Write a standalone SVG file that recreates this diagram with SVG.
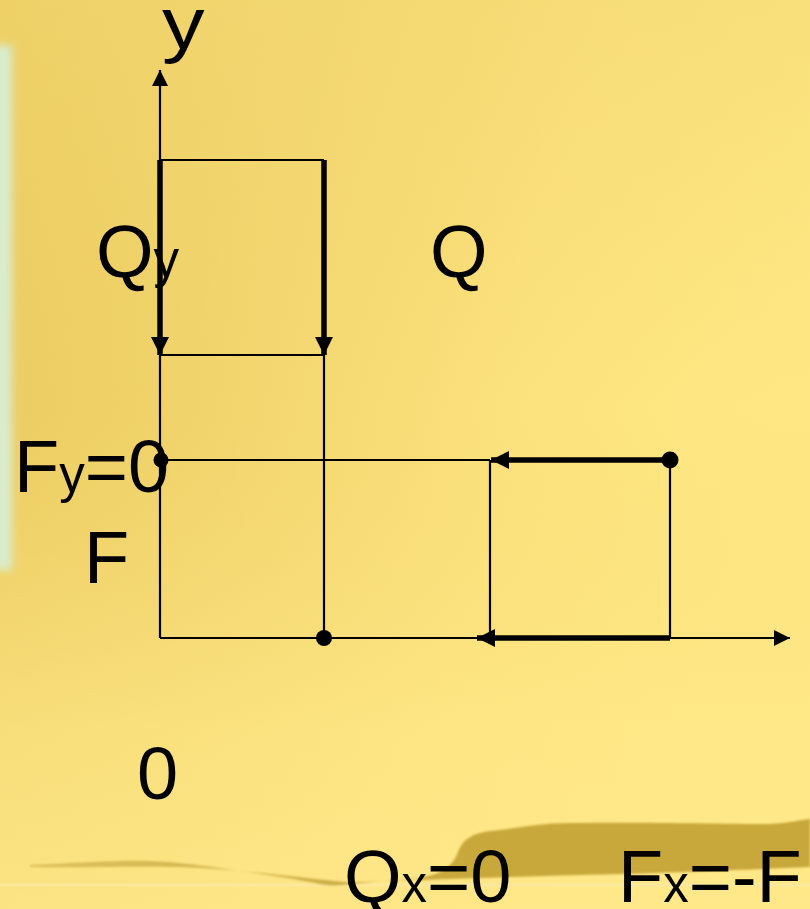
<svg xmlns="http://www.w3.org/2000/svg" width="810" height="909" viewBox="0 0 810 909">
<defs>
<linearGradient id="bg" x1="0" y1="0" x2="1" y2="0.25">
<stop offset="0" stop-color="#e9c95d"/>
<stop offset="0.35" stop-color="#f1d46c"/>
<stop offset="0.7" stop-color="#fce27d"/>
<stop offset="1" stop-color="#ffe884"/>
</linearGradient>
<linearGradient id="bgv" x1="0" y1="0" x2="0" y2="1">
<stop offset="0" stop-color="#f3d872" stop-opacity="0.5"/>
<stop offset="0.45" stop-color="#f3d872" stop-opacity="0"/>
<stop offset="0.8" stop-color="#ffe888" stop-opacity="0.6"/>
<stop offset="1" stop-color="#ffe88a" stop-opacity="0.8"/>
</linearGradient>
<linearGradient id="hill" x1="0" y1="0" x2="1" y2="0">
<stop offset="0" stop-color="#c9a93c"/>
<stop offset="1" stop-color="#c8a73a"/>
</linearGradient>
<linearGradient id="tail" x1="0" y1="0" x2="1" y2="0">
<stop offset="0" stop-color="#dcc05a"/>
<stop offset="0.6" stop-color="#d2b34a"/>
<stop offset="1" stop-color="#c6a63a"/>
</linearGradient>
<filter id="blur" x="-1" y="-0.2" width="3" height="1.4"><feGaussianBlur stdDeviation="4"/></filter>
<filter id="soft"><feGaussianBlur stdDeviation="0.8"/></filter>
<marker id="ah" viewBox="0 0 16 16" refX="16" refY="8" markerWidth="16" markerHeight="16" markerUnits="userSpaceOnUse" orient="auto">
<path d="M0,0 L16,8 L0,16 Z" fill="#000"/>
</marker>
<marker id="ahb" viewBox="0 0 18 18" refX="18" refY="9" markerWidth="18" markerHeight="18" markerUnits="userSpaceOnUse" orient="auto">
<path d="M0,0 L18,9 L0,18 Z" fill="#000"/>
</marker>
</defs>
<style>
.thin{stroke:#000;stroke-width:2.2;fill:none}
.thick{stroke:#000;stroke-width:5.5;fill:none}
.lbl{font-family:"Liberation Sans",Arial,sans-serif;font-size:74px;fill:#000}
.sub{font-size:51px}
</style>

<g id="background">
<rect width="810" height="909" fill="url(#bg)"/>
<rect width="810" height="909" fill="url(#bgv)"/>
<rect x="-6" y="45" width="18" height="525" fill="#d8edcf" filter="url(#blur)"/>
<path d="M0,885 L810,885" stroke="#fbe9a2" stroke-width="3" opacity="0.8"/>
<path d="M30,865 C80,863 120,860 150,861 C190,863 210,867 240,871 C270,875 295,879 315,883 C325,886 340,886 350,884 L444,876 C410,880 380,882 345,882 C300,878 250,870 180,867 C120,866 80,868 30,867 Z" fill="url(#tail)" filter="url(#soft)"/>
<path d="M420,878 C440,874 452,868 458,852 C463,840 470,834 490,831 C520,828 540,823 570,823 C650,822 720,824 770,824 C790,823 800,820 810,819 L810,867 C760,869 700,872 620,874 C540,876 480,878 420,880 Z" fill="url(#hill)" filter="url(#soft)"/>
</g>

<g id="axes">
<path class="thin" d="M160,638 L160,70" marker-end="url(#ah)"/>
<path class="thin" d="M160,638 L790,638" marker-end="url(#ah)"/>
</g>

<g id="grid">
<path class="thin" d="M160,160 L324,160"/>
<path class="thin" d="M160,355 L324,355"/>
<path class="thin" d="M324,355 L324,638"/>
<path class="thin" d="M160,460 L490,460"/>
<path class="thin" d="M490,460 L490,638"/>
<path class="thin" d="M670,460 L670,638"/>
</g>

<g id="connectors">
<path class="thick" d="M160,160 L160,355" marker-end="url(#ahb)"/>
<path class="thick" d="M324,160 L324,355" marker-end="url(#ahb)"/>
<path class="thick" d="M670,460 L491,460" marker-end="url(#ahb)"/>
<path class="thick" d="M670,638 L477,638" marker-end="url(#ahb)"/>
</g>

<g id="points">
<circle cx="161" cy="460" r="7.5" fill="#000"/>
<circle cx="670" cy="460" r="8.5" fill="#000"/>
<circle cx="324" cy="638" r="8" fill="#000"/>
</g>

<g id="labels">
<text class="lbl" transform="translate(162,49) scale(1.15,1)">y</text>
<text class="lbl" x="96" y="277">Q<tspan class="sub">y</tspan></text>
<text class="lbl" x="430" y="277">Q</text>
<text class="lbl" x="14" y="492">F<tspan class="sub">y</tspan>=0</text>
<text class="lbl" x="84" y="583">F</text>
<text class="lbl" x="137" y="799">0</text>
<text class="lbl" x="344" y="902">Q<tspan class="sub">x</tspan>=0</text>
<text class="lbl" x="618" y="902">F<tspan class="sub">x</tspan>=-F</text>
</g>
</svg>
